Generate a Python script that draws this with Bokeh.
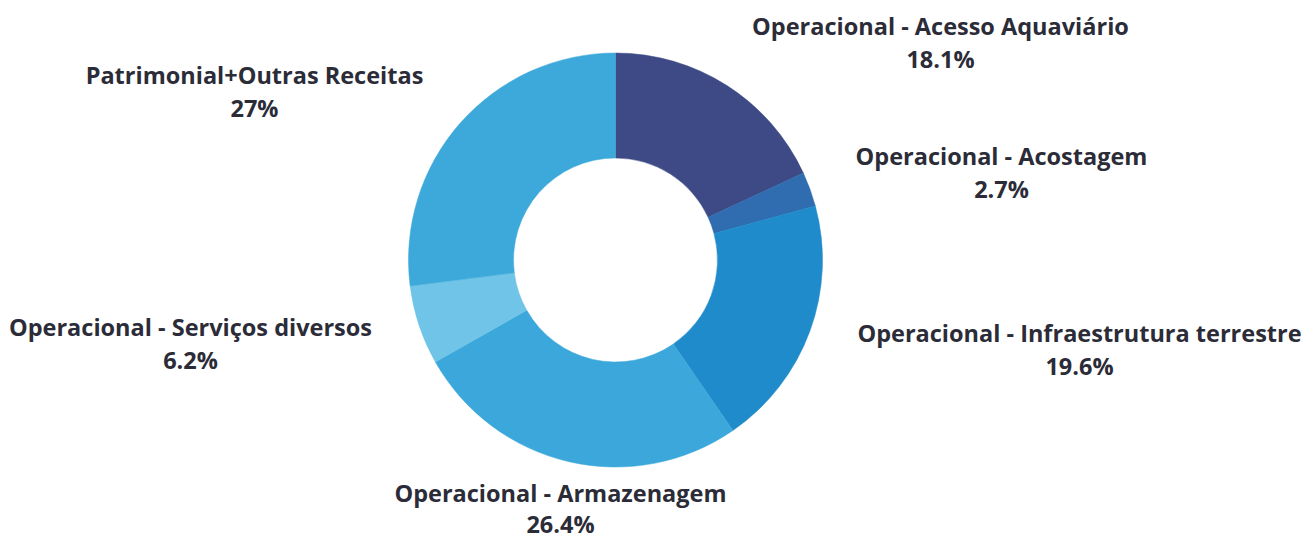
import math
from bokeh.plotting import figure
from bokeh.models import Range1d, ColumnDataSource
from bokeh.core.properties import value
from bokeh.embed import file_html
from bokeh.resources import INLINE

# ---- data ----
categories = [
    "Operacional - Acesso Aquaviário",
    "Operacional - Acostagem",
    "Operacional - Infraestrutura terrestre",
    "Operacional - Armazenagem",
    "Operacional - Serviços diversos",
    "Patrimonial+Outras Receitas",
]
shares = [18.1, 2.7, 19.6, 26.4, 6.2, 27.0]
pct_labels = ["18.1%", "2.7%", "19.6%", "26.4%", "6.2%", "27%"]
colors = ["#3e4a86", "#2f6db0", "#1f8bcb", "#3ba7da", "#6fc4e7", "#3da9da"]

# ---- layout (page pixel coords) ----
W, H = 1303, 538
cx, cy = 615, 259.5
r_out, r_in = 207, 102
label_pos = [(940, 25), (1001, 155), (1079, 332), (560, 492), (190, 326), (254, 74)]
line_gap = [33, 33, 33, 31, 33, 33]

def py(y):
    return H - y

total = sum(shares)
starts, ends = [], []
cum = 0.0
for s in shares:
    starts.append(math.pi / 2 - cum / total * 2 * math.pi)
    cum += s
    ends.append(math.pi / 2 - cum / total * 2 * math.pi)

src = ColumnDataSource(dict(start=starts, end=ends, color=colors,
                            x=[cx] * len(shares), y=[py(cy)] * len(shares)))

p = figure(width=W, height=H, output_backend="svg", toolbar_location=None,
           x_range=Range1d(0, W), y_range=Range1d(0, H),
           min_border=0, outline_line_color=None)
p.axis.visible = False
p.grid.visible = False
p.background_fill_color = "white"

p.annular_wedge(x="x", y="y", inner_radius=r_in, outer_radius=r_out,
                start_angle="start", end_angle="end", direction="clock",
                fill_color="color", line_color="color", line_width=0.5, source=src)

tsrc = ColumnDataSource(dict(
    x=[lp[0] for lp in label_pos],
    y1=[py(lp[1]) for lp in label_pos],
    y2=[py(lp[1] + g) for lp, g in zip(label_pos, line_gap)],
    name=categories, pct=pct_labels))
common = dict(text_font=value("Open Sans"), text_font_style="bold",
              text_font_size="23.5px", text_color="#2b2c38",
              text_align="center", text_baseline="middle", source=tsrc)
p.text(x="x", y="y1", text="name", **common)
p.text(x="x", y="y2", text="pct", **common)

open("out.html", "w").write(file_html(p, INLINE))
